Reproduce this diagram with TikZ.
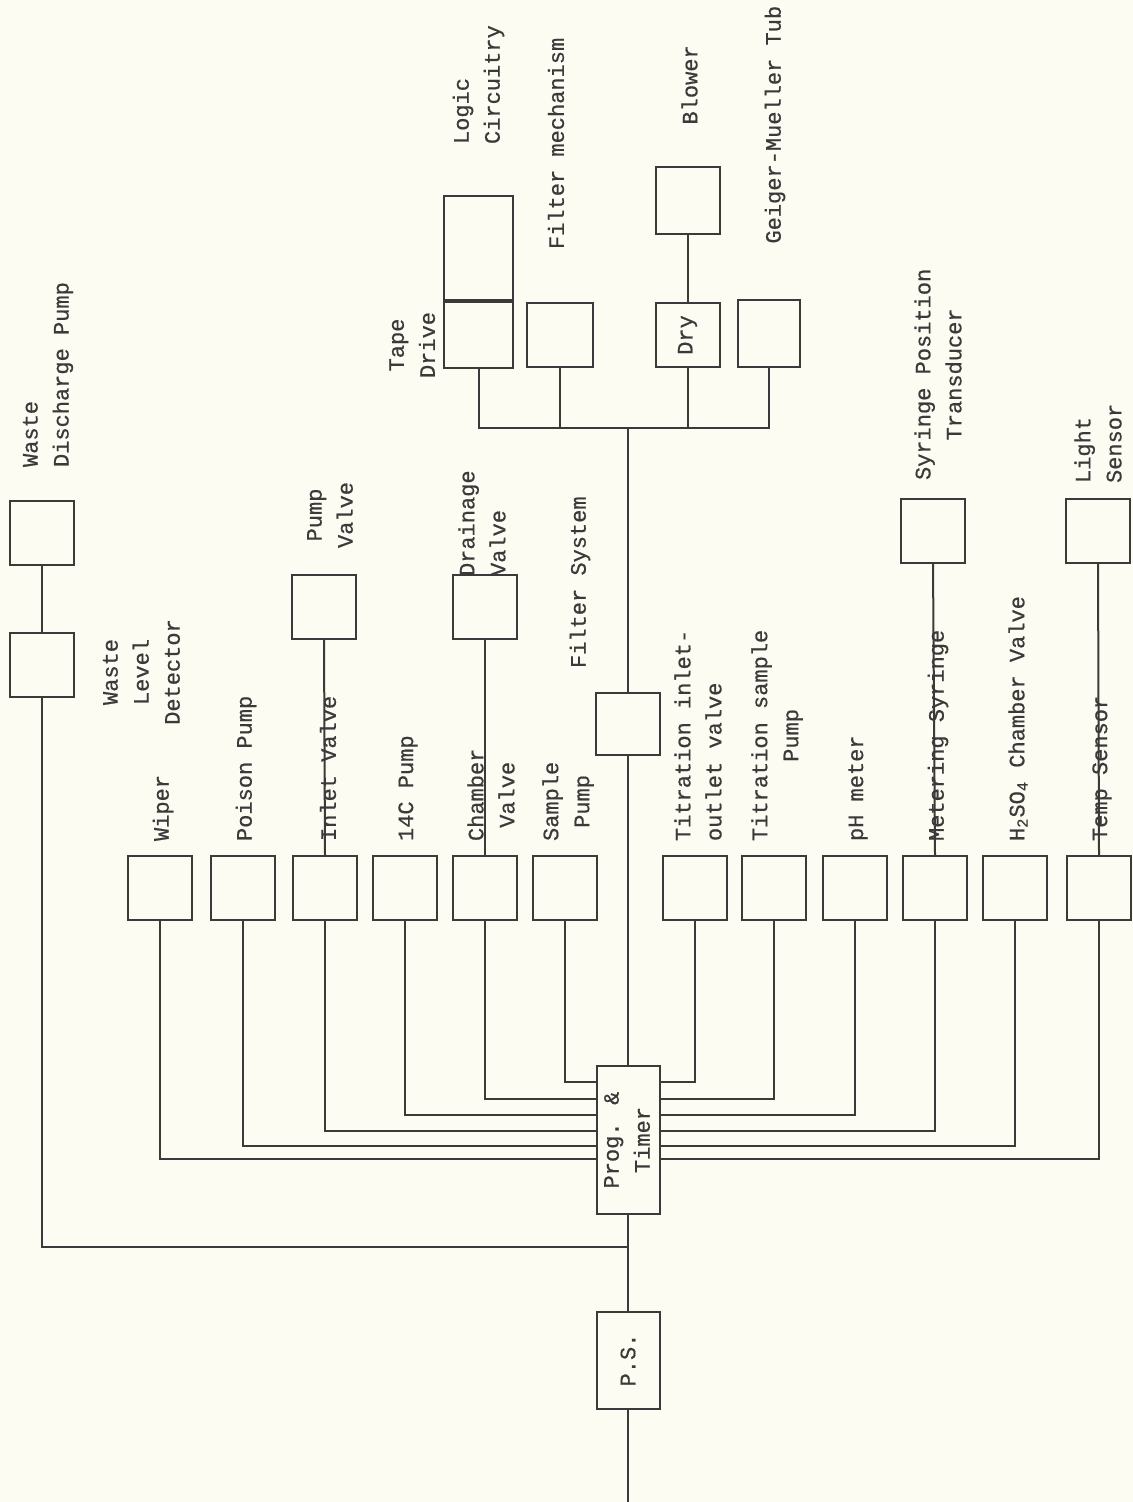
\documentclass[tikz,border=0pt]{standalone}
\usepackage{fontspec}
\setmainfont{Liberation Mono}[BoldFont={Liberation Mono},BoldFeatures={FakeBold=0.6}]
\usepackage{tikz}
\usetikzlibrary{calc}
\definecolor{paper}{RGB}{253,252,242}
\definecolor{ink}{RGB}{58,58,58}

\begin{document}
\begin{tikzpicture}[x=0.5pt,y=-0.5pt,line width=1pt,color=ink,
    blk/.style={draw,minimum width=32pt,minimum height=32pt,inner sep=0pt,font=\fontsize{11}{15.5}\selectfont\bfseries},
    lbl/.style={rotate=90,anchor=west,inner sep=0pt,font=\fontsize{11}{15.5}\selectfont\bfseries}]
            \fill[paper] (0,0) rectangle (1133,1502);
            \useasboundingbox (0,0) rectangle (1133,1502);
            % spine: supply, programmer, filter system
            \node[blk,minimum width=31.5pt,minimum height=48.5pt] (ps) at (628,1360) {\rotatebox{90}{P.S.}};
            \node[blk,minimum width=31.5pt,minimum height=74pt] (prog) at (628,1140) {\rotatebox{90}{\begin{tabular}{@{}c@{}}Prog. \&\\Timer\end{tabular}}};
            \node[blk,minimum height=31pt] (filtsys) at (628,724) {};
            \coordinate (pwr) at (628,1502);
            \coordinate (tap) at (628,1247);
            \coordinate (hub) at (628,428);
            % row of units under the programmer
            \foreach \n/\x in {wiper/160,poison/243,inlet/325,cfourteen/405,chamber/485,sample/565,tinlet/695,tsample/774,ph/855,meter/935,acid/1015,temp/1099}
                \node[blk] (\n) at (\x,888) {};
            \node[blk] (pumpv) at (324,607) {};
            \node[blk] (drainv) at (485,607) {};
            \node[blk] (syrpos) at (933,531) {};
            \node[blk] (light) at (1098,531) {};
            \node[blk] (wdp) at (42,533) {};
            \node[blk] (wld) at (42,665) {};
            % counter group
            \node[blk,minimum width=34.5pt,minimum height=33pt] (tape) at (478.5,335) {};
            \node[blk,minimum width=34.5pt,minimum height=52pt,anchor=south] (logic) at (tape.north) {};
            \node[blk,minimum width=33pt] (filtmech) at (560,335) {};
            \node[blk] (dry) at (687.5,335) {\rotatebox{90}{Dry}};
            \node[blk,minimum height=33.5pt] (blower) at (687.5,201) {};
            \node[blk,minimum width=31pt,minimum height=33.5pt] (geiger) at (769,334) {};
            % wiring
            \draw (ps.south) -- (pwr);
            \draw (ps.north) -- (prog.south);
            \draw (tap) -| (wld.south);
            \draw (wld.north) -- (wdp.south);
            \draw (prog.north) -- (filtsys.south);
            \draw (filtsys.north) -- (hub);
            \draw (tape.south) |- (hub) -| (geiger.south);
            \draw (filtmech.south) -- (filtmech.south |- hub);
            \draw (dry.south) -- (dry.south |- hub);
            \draw (blower.south) -- (dry.north);
            \draw (pumpv.south) -- (inlet.north);
            \draw (drainv.south) -- (chamber.north);
            \draw (syrpos.south) -- (meter.north);
            \draw (light.south) -- (temp.north);
            \foreach \l/\r/\d in {sample/tinlet/17,chamber/tsample/34,cfourteen/ph/50,inlet/meter/66,poison/acid/81,wiper/temp/94} {
                \draw (\l.south) |- ($(prog.north west)+(0,\d)$);
                \draw (\r.south) |- ($(prog.north east)+(0,\d)$);
            }
            % labels
            \node[lbl,align=left] at ($(wdp.north)+(6,-32)$) {Waste\\Discharge Pump};
            \node[lbl,align=center,anchor=north] at ($(wld.east)+(27,7)$) {Waste\\Level\\Detector};
            \node[lbl,align=center] at ($(pumpv.north)+(6,-25)$) {Pump\\Valve};
            \node[lbl,align=left] at ($(drainv.north)+(-3,3)$) {Drainage\\Valve};
            \node[lbl] at ($(filtsys.north west)+(-15,-23)$) {Filter System};
            \node[lbl,align=center] at ($(syrpos.north)+(5,-17)$) {Syringe Position\\Transducer};
            \node[lbl,align=left] at ($(light.north)+(0,-14)$) {Light\\Sensor};
            \node[lbl] at ($(wiper.north)+(3,-13)$) {Wiper};
            \node[lbl] at ($(poison.north)+(3,-13)$) {Poison Pump};
            \node[lbl] at ($(inlet.north)+(3,-13)$) {Inlet Valve};
            \node[lbl] at ($(cfourteen.north)+(3,-13)$) {14C Pump};
            \node[lbl,align=center] at ($(chamber.north)+(6,-13)$) {Chamber\\Valve};
            \node[lbl,align=center] at ($(sample.north)+(3,-13)$) {Sample\\Pump};
            \node[lbl,align=left] at ($(tinlet.north)+(3,-13)$) {Titration inlet-\\outlet valve};
            \node[lbl,align=center] at ($(tsample.north)+(3,-13)$) {Titration sample\\Pump};
            \node[lbl] at ($(ph.north)+(3,-13)$) {pH meter};
            \node[lbl] at ($(meter.north)+(3,-13)$) {Metering Syringe};
            \node[lbl] at ($(acid.north)+(3,-13)$) {H\textsubscript{2}SO\textsubscript{4} Chamber Valve};
            \node[lbl] at ($(temp.north)+(3,-13)$) {Temp Sensor};
            \node[lbl,align=center,anchor=south] at ($(tape.west)+(-7,10)$) {Tape\\Drive};
            \node[lbl,align=left] at ($(logic.north)+(0,-50)$) {Logic\\Circuitry};
            \node[lbl] at ($(filtmech.north)+(-4,-52)$) {Filter mechanism};
            \node[lbl] at ($(blower.north)+(2,-41)$) {Blower};
            \node[lbl] at ($(geiger.north)+(6,-55)$) {Geiger-Mueller Tub};
        \end{tikzpicture}
\end{document}
